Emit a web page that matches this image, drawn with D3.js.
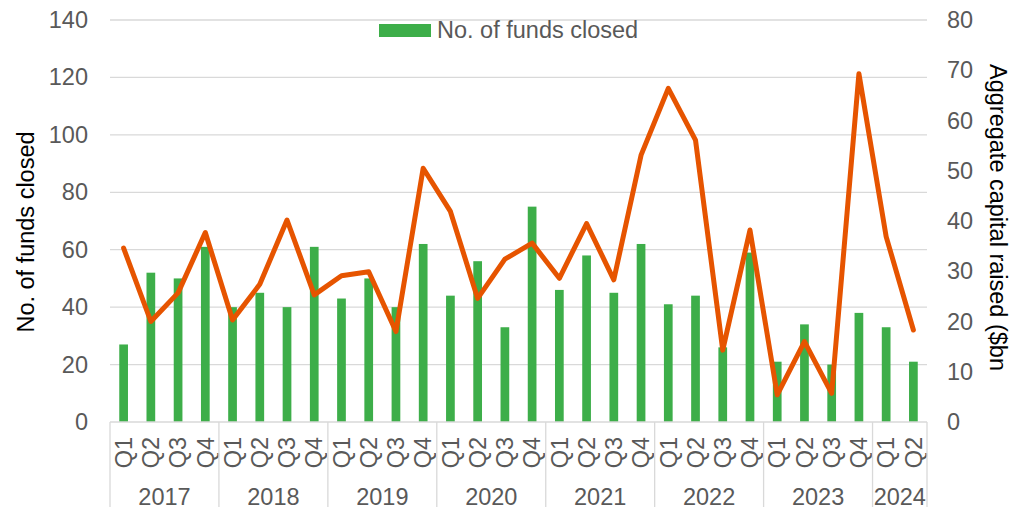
<!DOCTYPE html>
<html>
<head>
<meta charset="utf-8">
<script src="https://cdn.jsdelivr.net/npm/d3@7"></script>
<style>
  body { margin: 0; background: #fff; }
  svg text { font-family: "Liberation Sans", Arial, sans-serif; }
</style>
</head>
<body>
<div id="chart"></div>
<script>
// data
var years = ["2017", "2018", "2019", "2020", "2021", "2022", "2023", "2024"];
var quarters = ["Q1", "Q2", "Q3", "Q4"];
var quartersPerYear = [4, 4, 4, 4, 4, 4, 4, 2];

var fundsClosed = [27, 52, 50, 61, 40, 45, 40, 61, 43, 50, 40, 62, 44, 56, 33, 75,
                   46, 58, 45, 62, 41, 44, 26, 59, 21, 34, 20, 38, 33, 21];
var capitalRaised = [34.6, 20.0, 25.7, 37.7, 20.3, 27.4, 40.2, 25.3, 29.1, 29.9, 18.0, 50.5,
                     41.9, 24.6, 32.4, 35.6, 28.6, 39.5, 28.3, 53.1, 66.4, 56.1, 14.3, 38.2,
                     5.4, 16.0, 5.7, 69.3, 36.9, 18.3];

var leftTicks = [0, 20, 40, 60, 80, 100, 120, 140];
var rightTicks = [0, 10, 20, 30, 40, 50, 60, 70, 80];

var fontSize = 23.5;

// build category list (year, quarter)
var cats = [];
years.forEach(function (y, yi) {
    for (var q = 0; q < quartersPerYear[yi]; q++) {
        cats.push({ year: y, q: quarters[q], key: y + "-" + quarters[q] });
    }
});

var dim = { width: 1017, height: 507 };
var plot = { left: 110, right: 927, top: 20, bottom: 422 };

var svg = d3.select("#chart").append("svg")
    .attr("width", dim.width)
    .attr("height", dim.height);

var x = d3.scaleBand()
    .domain(cats.map(d => d.key))
    .range([plot.left, plot.right])
    .paddingInner(0.68)
    .paddingOuter(0.34);

var xc = d3.scaleBand()
    .domain(cats.map(d => d.key))
    .range([plot.left, plot.right]);

var yL = d3.scaleLinear().domain([0, 140]).range([plot.bottom, plot.top]);
var yR = d3.scaleLinear().domain([0, 80]).range([plot.bottom, plot.top]);

// gridlines
svg.append("g").selectAll("line")
    .data(leftTicks.slice(1)).enter()
    .append("line")
    .attr("x1", plot.left).attr("x2", plot.right)
    .attr("y1", d => yL(d)).attr("y2", d => yL(d))
    .attr("stroke", "#d9d9d9").attr("stroke-width", 1.3);

// left / right axis labels
var leftAxis = d3.axisLeft(yL).tickValues(leftTicks).tickSize(0).tickPadding(22);
svg.append("g")
    .attr("transform", `translate(${plot.left},0)`)
    .call(leftAxis)
    .call(g => g.select(".domain").remove())
    .selectAll("text")
    .attr("font-size", fontSize).attr("fill", "#595959")
    .style("font-family", '"Liberation Sans", Arial, sans-serif');

var rightAxis = d3.axisRight(yR).tickValues(rightTicks).tickSize(0).tickPadding(20);
svg.append("g")
    .attr("transform", `translate(${plot.right},0)`)
    .call(rightAxis)
    .call(g => g.select(".domain").remove())
    .selectAll("text")
    .attr("font-size", fontSize).attr("fill", "#595959")
    .style("font-family", '"Liberation Sans", Arial, sans-serif');

// bars
svg.append("g").selectAll("rect")
    .data(fundsClosed).enter()
    .append("rect")
    .attr("x", (d, i) => x(cats[i].key))
    .attr("width", x.bandwidth())
    .attr("y", d => yL(d))
    .attr("height", d => plot.bottom - yL(d))
    .attr("fill", "#3dae49");

// line
var line = d3.line()
    .x((d, i) => xc(cats[i].key) + xc.bandwidth() / 2)
    .y(d => yR(d));

svg.append("path")
    .datum(capitalRaised)
    .attr("d", line)
    .attr("fill", "none")
    .attr("stroke", "#e65400")
    .attr("stroke-width", 5)
    .attr("stroke-linejoin", "round")
    .attr("stroke-linecap", "round");

// category axis
var axisG = svg.append("g");
axisG.append("line")
    .attr("x1", plot.left).attr("x2", plot.right)
    .attr("y1", plot.bottom).attr("y2", plot.bottom)
    .attr("stroke", "#d9d9d9").attr("stroke-width", 1.3);

axisG.selectAll("text.q")
    .data(cats).enter()
    .append("text")
    .attr("class", "q")
    .attr("transform", d => `translate(${xc(d.key) + xc.bandwidth() / 2},437) rotate(-90)`)
    .attr("dy", "0.35em")
    .attr("text-anchor", "end")
    .attr("font-size", fontSize)
    .attr("fill", "#595959")
    .text(d => d.q);

// year groups
var start = 0, yearGroups = [];
years.forEach(function (y, yi) {
    yearGroups.push({ year: y, first: cats[start].key, last: cats[start + quartersPerYear[yi] - 1].key });
    start += quartersPerYear[yi];
});

axisG.selectAll("line.sep")
    .data(yearGroups).enter()
    .append("line")
    .attr("class", "sep")
    .attr("x1", d => xc(d.first)).attr("x2", d => xc(d.first))
    .attr("y1", plot.bottom).attr("y2", dim.height)
    .attr("stroke", "#d9d9d9").attr("stroke-width", 1.3);

axisG.append("line")
    .attr("x1", plot.right).attr("x2", plot.right)
    .attr("y1", plot.bottom).attr("y2", dim.height)
    .attr("stroke", "#d9d9d9").attr("stroke-width", 1.3);

axisG.selectAll("text.yr")
    .data(yearGroups).enter()
    .append("text")
    .attr("class", "yr")
    .attr("x", d => (xc(d.first) + xc(d.last) + xc.bandwidth()) / 2)
    .attr("y", 505)
    .attr("text-anchor", "middle")
    .attr("font-size", fontSize)
    .attr("fill", "#595959")
    .text(d => d.year);

// axis titles
svg.append("text")
    .attr("transform", "translate(26,232) rotate(-90)")
    .attr("dy", "0.35em")
    .attr("text-anchor", "middle")
    .attr("font-size", fontSize)
    .attr("fill", "#000")
    .text("No. of funds closed");

svg.append("text")
    .attr("transform", "translate(998,64) rotate(90)")
    .attr("dy", "0.35em")
    .attr("text-anchor", "start")
    .attr("font-size", fontSize)
    .attr("fill", "#000")
    .text("Aggregate capital raised ($bn");

// legend
var legend = svg.append("g");
legend.append("rect")
    .attr("x", 379).attr("y", 24)
    .attr("width", 52).attr("height", 13)
    .attr("fill", "#3dae49");
legend.append("text")
    .attr("x", 437).attr("y", 30)
    .attr("dy", "0.35em")
    .attr("font-size", fontSize)
    .attr("fill", "#595959")
    .text("No. of funds closed");
</script>
</body>
</html>
